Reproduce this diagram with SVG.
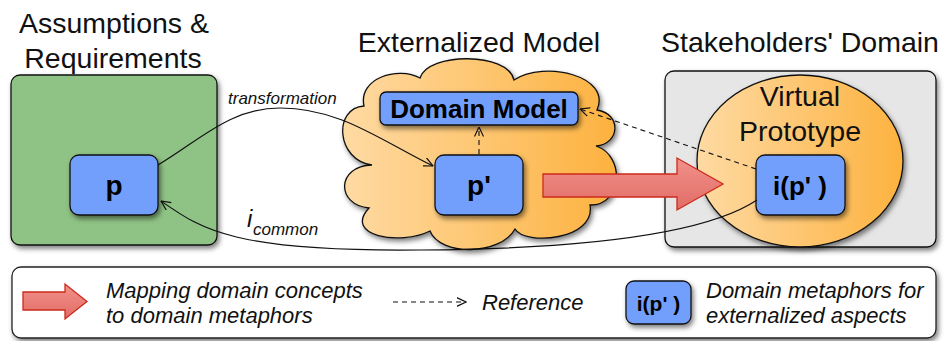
<svg xmlns="http://www.w3.org/2000/svg" width="946" height="341" viewBox="0 0 946 341">
  <defs>
    <style>
      .title { font-family: "Liberation Sans", Arial, sans-serif; font-size: 28.5px; fill: #111; text-anchor: middle; }
      .box { fill: #729ffc; stroke: #111; stroke-width: 1.3; filter: url(#shadow); }
      .boxlabel { font-family: "Liberation Sans", Arial, sans-serif; font-weight: bold; fill: #000; text-anchor: middle; }
      .note { font-family: "Liberation Sans", Arial, sans-serif; font-style: italic; fill: #111; }
      .legend-text { font-size: 22px; }
      .edge { fill: none; stroke: #111; stroke-width: 1.2; }
      .ref { fill: none; stroke: #111; stroke-width: 1.1; stroke-dasharray: 5 4; }
      .bigarrow { fill: url(#redFill); stroke: #cc2a1c; stroke-width: 1.3; }
    </style>
    <filter id="shadow" x="-20%" y="-20%" width="150%" height="150%">
      <feDropShadow dx="2" dy="3" stdDeviation="2.5" flood-color="#000" flood-opacity="0.5"/>
    </filter>
    <linearGradient id="orange" x1="0" y1="0" x2="1" y2="0">
      <stop offset="0" stop-color="#fedaa3"/>
      <stop offset="1" stop-color="#fdb23f"/>
    </linearGradient>
    <linearGradient id="redFill" x1="0" y1="0" x2="0" y2="1">
      <stop offset="0" stop-color="#f2918a"/>
      <stop offset="1" stop-color="#e16d66"/>
    </linearGradient>
    <marker id="open" viewBox="0 0 10 10" refX="9.5" refY="5" markerWidth="10" markerHeight="10" markerUnits="userSpaceOnUse" orient="auto">
      <path d="M0,0.5 L9.5,5 L0,9.5" fill="none" stroke="#111" stroke-width="1.2"/>
    </marker>
  </defs>

  <!-- section titles -->
  <text class="title" x="114" y="33">Assumptions &amp;</text>
  <text class="title" x="113" y="68">Requirements</text>
  <text class="title" x="479" y="52">Externalized Model</text>
  <text class="title" x="800" y="52">Stakeholders' Domain</text>

  <!-- containers -->
  <g id="assumptions">
    <rect x="11" y="75" width="206" height="170" rx="9" fill="#8fc285" stroke="#111" stroke-width="1.3" filter="url(#shadow)"/>
  </g>
  <g id="stakeholders-domain">
    <rect x="665" y="71" width="271" height="176" rx="9" fill="#e6e6e6" stroke="#111" stroke-width="1.3" filter="url(#shadow)"/>
  </g>
  <g id="virtual-prototype">
    <ellipse cx="800" cy="161" rx="103" ry="86" fill="url(#orange)" stroke="#111" stroke-width="1.3" filter="url(#shadow)"/>
    <text class="title" x="800" y="106">Virtual</text>
    <text class="title" x="800" y="141">Prototype</text>
  </g>
  <g id="externalized-model">
    <path d="M372,165 C336,160 333,108 364,106 C358,78 398,66 420,78 C428,52 508,52 514,80 C545,60 612,76 597,110 C622,114 620,144 596,146 C626,156 622,206 590,205 C596,240 525,246 515,229 C500,256 440,256 430,231 C400,246 343,236 369,208 C336,205 336,166 372,165 Z" fill="url(#orange)" stroke="#111" stroke-width="1.3" filter="url(#shadow)"/>
  </g>

  <!-- nodes -->
  <g id="node-p">
    <rect class="box" x="70" y="155" width="88" height="60" rx="9"/>
    <text class="boxlabel" x="114" y="195" font-size="28">p</text>
  </g>
  <g id="node-domain-model">
    <rect class="box" x="380" y="92" width="198" height="33" rx="6"/>
    <text class="boxlabel" x="479" y="118" font-size="26">Domain Model</text>
  </g>
  <g id="node-p-prime">
    <rect class="box" x="435" y="155" width="88" height="60" rx="9"/>
    <text class="boxlabel" x="479" y="195" font-size="28">p'</text>
  </g>
  <g id="node-i-p-prime">
    <rect class="box" x="756" y="155" width="89" height="60" rx="9"/>
    <text class="boxlabel" x="800" y="195" font-size="26" xml:space="preserve">i(p' )</text>
  </g>

  <!-- connectors -->
  <g id="connectors">
    <path class="edge" d="M158,165 C200,140 230,108 280,108 C340,108 380,140 433,166" marker-end="url(#open)"/>
    <text class="note" x="228" y="104" style="font-size:17px">transformation</text>
    <path class="edge" d="M757,200 C700,238 560,249 420,250 C230,252 200,228 161,201" marker-end="url(#open)"/>
    <text class="note" x="247" y="227" style="font-size:24px">i</text>
    <text class="note" x="253" y="235" style="font-size:17px">common</text>
    <path class="ref" d="M479,154 L479,127" marker-end="url(#open)"/>
    <path class="ref" d="M756,169 L580,109" marker-end="url(#open)"/>
    <path class="bigarrow" d="M543,174 L677,174 L677,158 L723,184 L677,210 L677,197 L543,197 Z"/>
  </g>

  <!-- legend -->
  <g id="legend">
    <rect x="12" y="267" width="924" height="71" rx="9" fill="#fff" stroke="#222" stroke-width="1.3" filter="url(#shadow)"/>
    <path class="bigarrow" d="M23,292 L65,292 L65,284 L87,301.5 L65,319 L65,310 L23,310 Z"/>
    <text class="note legend-text" x="106" y="298">Mapping domain concepts</text>
    <text class="note legend-text" x="106" y="323">to domain metaphors</text>
    <path class="ref" d="M393,302 L466,302" marker-end="url(#open)"/>
    <text class="note legend-text" x="482" y="310">Reference</text>
    <rect class="box" x="626" y="281" width="65" height="43" rx="8"/>
    <text class="boxlabel" x="658.5" y="311" font-size="21" xml:space="preserve">i(p' )</text>
    <text class="note legend-text" x="706" y="298">Domain metaphors for</text>
    <text class="note legend-text" x="706" y="323">externalized aspects</text>
  </g>
</svg>
